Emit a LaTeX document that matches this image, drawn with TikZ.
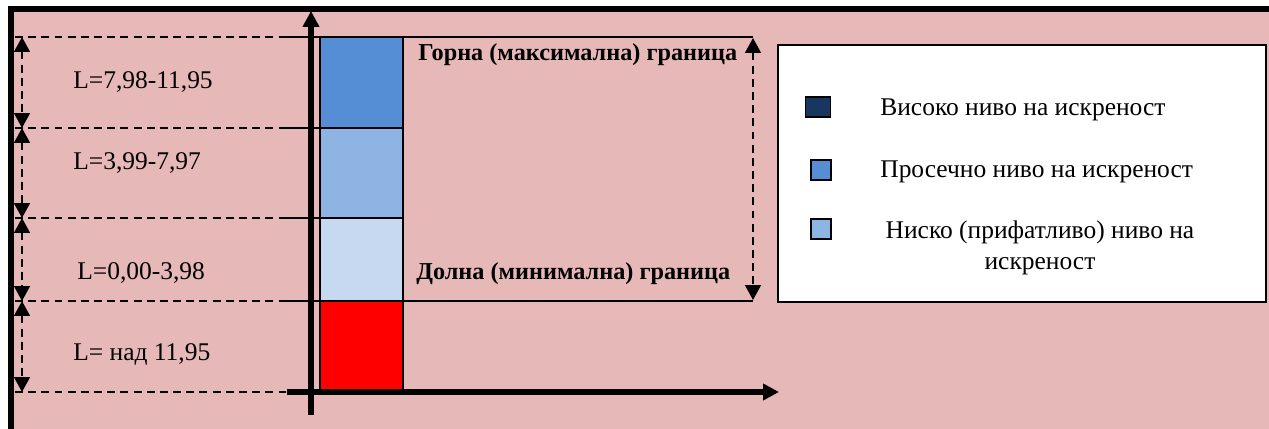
\documentclass[tikz,border=0pt]{standalone}
\usepackage{fontspec}
\setmainfont{Liberation Serif}
\usetikzlibrary{arrows.meta}

\definecolor{bgpink}{HTML}{E6B8B7}
\definecolor{blueA}{HTML}{558ED5}
\definecolor{blueB}{HTML}{8EB4E3}
\definecolor{blueC}{HTML}{C6D9F1}
\definecolor{blueD}{HTML}{17375E}

\tikzset{
  dline/.style={line width=1.1pt, dash pattern=on 4.5pt off 3pt},
  sline/.style={line width=1.1pt},
  axis/.style={line width=3pt},
  bar/.style={draw=black, line width=1.3pt},
  tip/.style={-{Triangle[length=9pt,width=9pt]}},
  dtip/.style={{Triangle[length=8.5pt,width=9pt]}-{Triangle[length=8.5pt,width=9pt]}},
  lvl/.style={anchor=west, inner sep=0pt},
  lim/.style={font=\fontsize{13.8}{15}\selectfont\bfseries, anchor=west, inner sep=0pt},
  key/.style={draw=black, line width=1.1pt, minimum width=0.4cm, minimum height=0.4cm, inner sep=0pt}
}

\begin{document}
\begin{tikzpicture}[x=0.02cm, y=-0.02cm, font=\fontsize{14.5}{17.6}\selectfont]
        \useasboundingbox (0,0) rectangle (1269,429);
        % frame
        \fill[bgpink] (11,9) rectangle (1269,429);
        \draw[line width=3.6pt] (11,429) -- (11,9) -- (1269,9);

        % level lines
        \foreach \y in {37,128,218,301} {
            \draw[dline] (15,\y) -- (283,\y);
            \draw[sline] (283,\y) -- (320,\y);
        }
        \draw[dline] (15,392) -- (287,392);

        % bars
        \draw[bar, fill=blueA] (320,37) rectangle (403,128);
        \draw[bar, fill=blueB] (320,128) rectangle (403,218);
        \draw[bar, fill=blueC] (320,218) rectangle (403,301);
        \draw[bar, fill=red] (320,301) rectangle (403,392);

        % axes
        \coordinate (o) at (311,392);
        \coordinate (ytop) at (311,11);
        \coordinate (xend) at (779,392);
        \draw[axis, tip] (311,415) -- (ytop);
        \draw[axis, tip] (287,392) -- (xend);

        % left ranges
        \coordinate (r0) at (22,37);
        \coordinate (r1) at (22,128);
        \coordinate (r2) at (22,218);
        \coordinate (r3) at (22,301);
        \coordinate (r4) at (22,392);
        \draw[dline, dtip] (r0) -- (r1);
        \draw[dline, dtip] (r1) -- (r2);
        \draw[dline, dtip] (r2) -- (r3);
        \draw[dline, dtip] (r3) -- (r4);

        \node[lvl] (l1) at (73,82) {L=7,98-11,95};
        \node[lvl] (l2) at (73,163) {L=3,99-7,97};
        \node[lvl] (l3) at (77,273) {L=0,00-3,98};
        \node[lvl] (l4) at (73,355) {L= над 11,95};

        % limits
        \draw[sline] (403,37) -- (753,37);
        \draw[sline] (403,301) -- (753,301);
        \coordinate (gt) at (753,38);
        \coordinate (gb) at (753,300);
        \draw[dline, dtip] (gt) -- (gb);
        \node[lim] (upper) at (418,55) {Горна (максимална) граница};
        \node[lim] (lower) at (416,274) {Долна (минимална) граница};

        % legend
        \draw[fill=white, line width=1.5pt] (778,45) rectangle (1266,302);
        \node[key, fill=blueD, minimum width=0.5cm] (k1) at (818,107) {};
        \node[key, fill=blueA] (k2) at (821,170) {};
        \node[key, fill=blueB] (k3) at (821,229) {};
        \node[lvl] (t1) at (880,110) {Високо ниво на искреност};
        \node[lvl] (t2) at (880,172) {Просечно ниво на искреност};
        \node[align=center, inner sep=0pt] (t3) at (1040,248) {Ниско (прифатливо) ниво на\\искреност};
\end{tikzpicture}
\end{document}
